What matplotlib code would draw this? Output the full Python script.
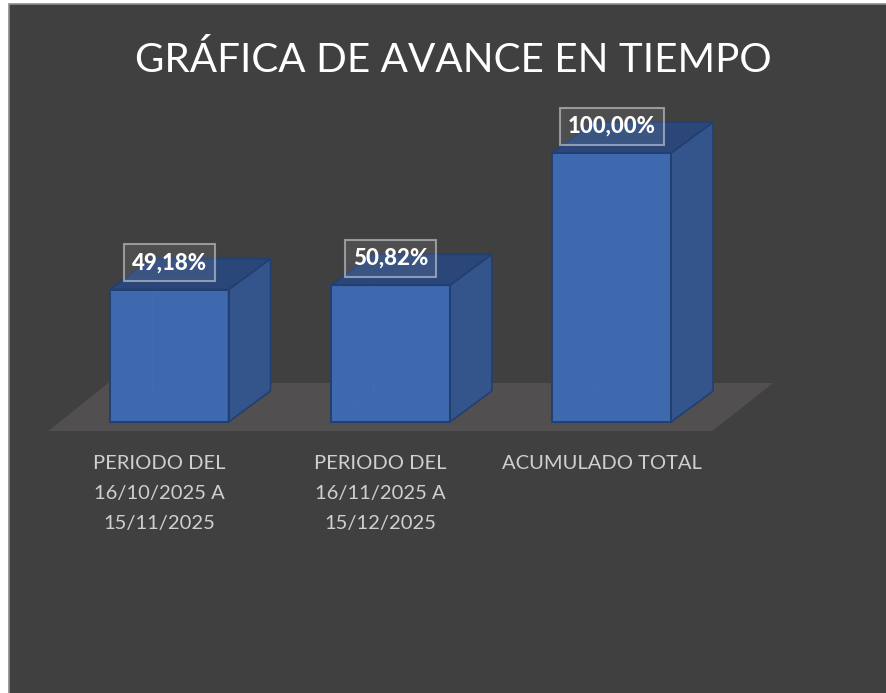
import matplotlib.pyplot as plt
from matplotlib.patches import Polygon, Rectangle

categories = ['PERIODO DEL\n16/10/2025 A\n15/11/2025',
              'PERIODO DEL\n16/11/2025 A\n15/12/2025',
              'ACUMULADO TOTAL']
values = [49.18, 50.82, 100.00]
value_labels = ['49,18%', '50,82%', '100,00%']

plt.rcParams['font.family'] = ['Lato', 'DejaVu Sans']

W, H = 886, 693
BG = '#404040'
FRONT = '#3F69AE'
SIDE = '#34558C'
TOP = '#2B4779'
EDGE = '#223F72'

# one category = 221.3 px, one percent = 2.69 px
x_unit = 221.3
y_unit = 2.69
x0_px = 169
y0_px = 422
bar_w = 119 / x_unit
dx = 42 / x_unit
dy = 31 / y_unit

fig = plt.figure(figsize=(W / 100, H / 100), dpi=100, facecolor='white')
ax = fig.add_axes([0, 0, 1, 1])
ax.set_xlim(-x0_px / x_unit, (W - x0_px) / x_unit)
ax.set_ylim(-(H - y0_px) / y_unit, y0_px / y_unit)
ax.axis('off')

# chart area with its thin border
ax.add_patch(Rectangle((8.5 / W, -0.1), 1.1, (H - 4.5) / H + 0.1, transform=ax.transAxes,
                       facecolor=BG, edgecolor='#8C8C8C', linewidth=1.2, zorder=0))

# floor of the 3d plot
fy = -9 / y_unit
floor = [(-0.545, fy), (2.455, fy), (2.73, 39 / y_unit), (-0.275, 39 / y_unit)]
ax.add_patch(Polygon(floor, facecolor='#514F4F', edgecolor='none', zorder=1))

for i, v in enumerate(values):
    l = i - bar_w / 2
    r = i + bar_w / 2
    ax.bar(i, v, bar_w, color=FRONT, edgecolor='none', zorder=3)
    ax.add_patch(Polygon([(r, 0), (r + dx, dy), (r + dx, v + dy), (r, v)],
                         facecolor=SIDE, edgecolor=EDGE, linewidth=1.2, zorder=3))
    ax.add_patch(Polygon([(l, v), (r, v), (r + dx, v + dy), (l + dx, v + dy)],
                         facecolor=TOP, edgecolor=EDGE, linewidth=1.2, zorder=3))
    # faint back edges seen through the bar
    ax.plot([l + dx, l + dx], [dy, v], color='#4570B4', lw=0.6, alpha=0.6, zorder=4)
    ax.plot([l, l + dx, r], [0, dy, dy], color='#4570B4', lw=0.6, alpha=0.6, zorder=4)
    ax.add_patch(Rectangle((l, 0), bar_w, v, facecolor='none', edgecolor=EDGE,
                           linewidth=1.4, zorder=5))
    ax.annotate(value_labels[i], (i, v), xytext=(0.5 * 0.72, 27 * 0.72), textcoords='offset points',
                ha='center', va='center', color='white', fontsize=16, fontweight='black', zorder=7,
                bbox=dict(boxstyle='square,pad=0.36', facecolor=(1, 1, 1, 0.08),
                          edgecolor=(0.8, 0.82, 0.85, 0.6), linewidth=1.5))
    ax.annotate(categories[i], (i, 0), xytext=(-10 * 0.72, -33 * 0.72),
                textcoords='offset points', ha='center', va='top', color='#CFCFCF',
                fontsize=14.5, linespacing=1.92, zorder=7)

ax.text(453 / W, 1 - 60 / H, 'GRÁFICA DE AVANCE EN TIEMPO', transform=ax.transAxes,
        ha='center', va='center', color='white', fontsize=29.1, zorder=7)

fig.savefig('out.png', dpi=100, facecolor=fig.get_facecolor())
